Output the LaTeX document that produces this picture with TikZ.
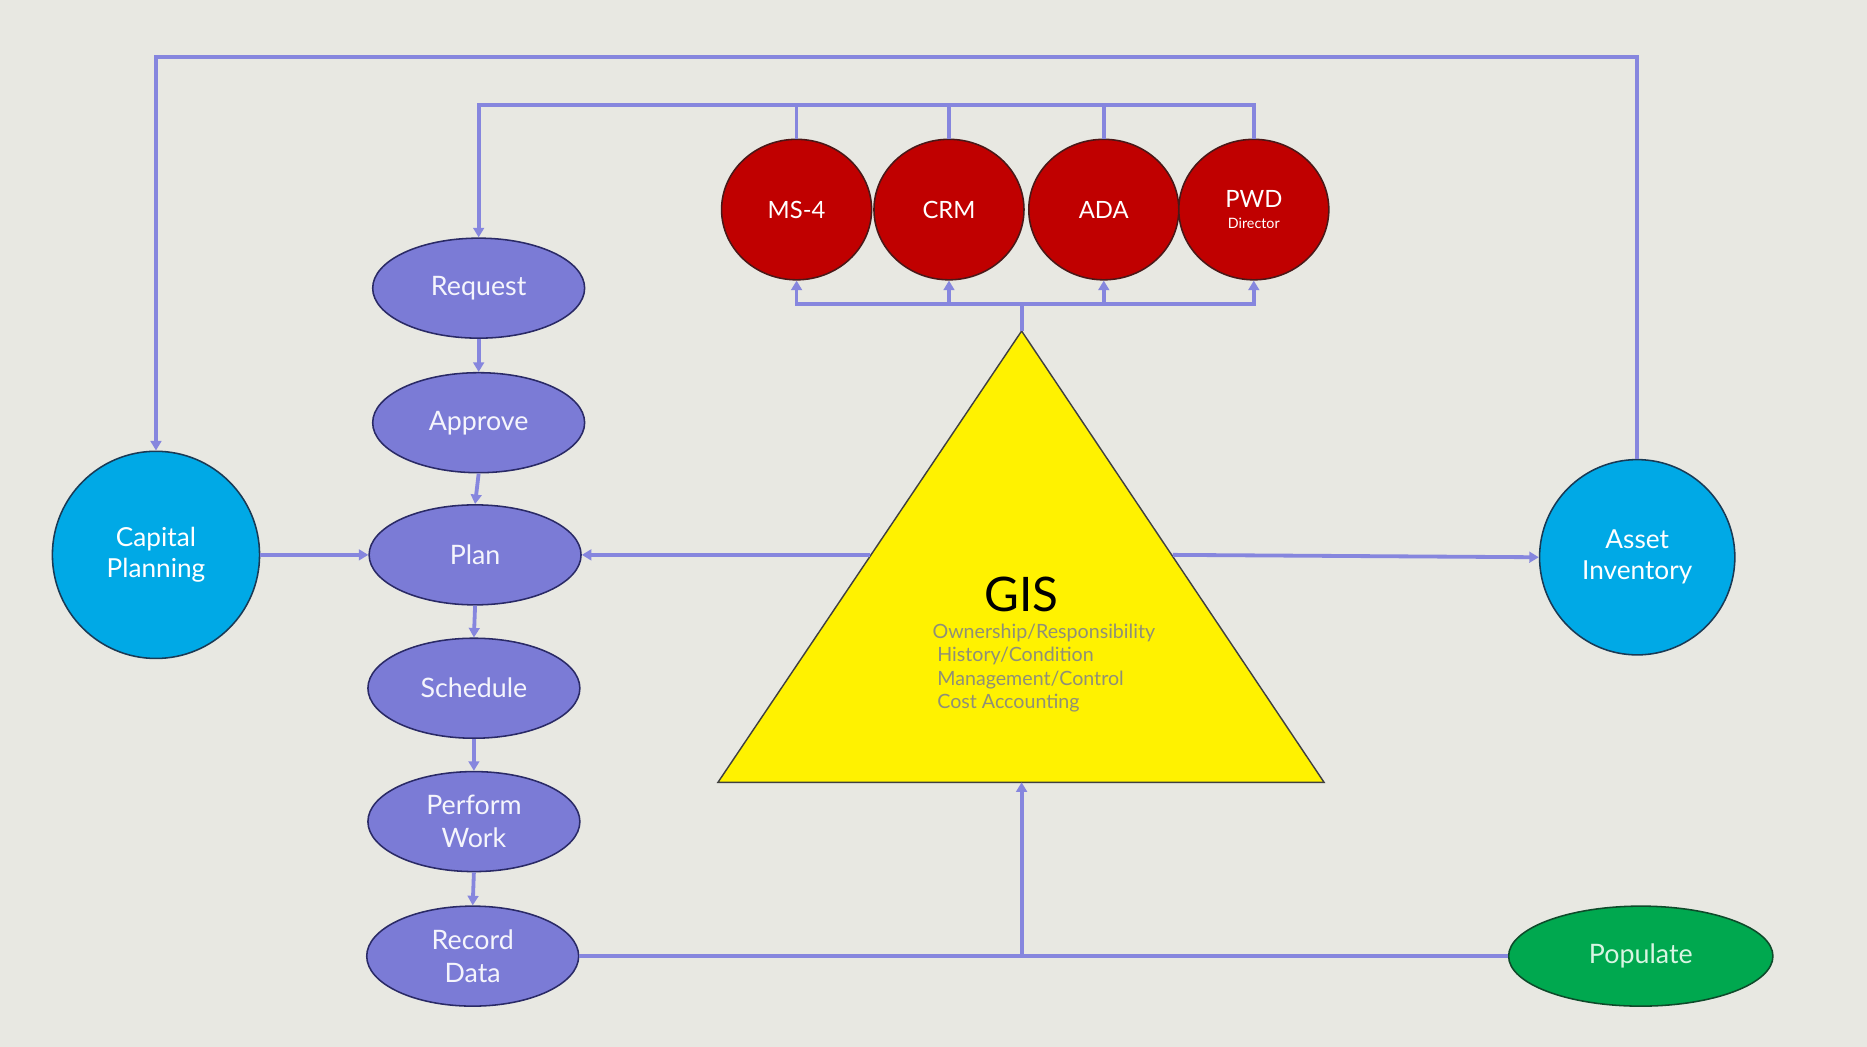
\documentclass[tikz,border=0pt]{standalone}
\usepackage{fontspec}
\setmainfont{Lato}
\usetikzlibrary{shapes.geometric,arrows.meta,calc}
\definecolor{bg}{HTML}{E8E8E2}
\definecolor{lnk}{HTML}{8686DE}
\definecolor{pfill}{HTML}{7B7BD6}
\definecolor{pdraw}{HTML}{2A2A66}
\definecolor{rfill}{HTML}{C00000}
\definecolor{rdraw}{HTML}{4A1818}
\definecolor{bfill}{HTML}{00A9E6}
\definecolor{bdraw}{HTML}{1A3A55}
\definecolor{gfill}{HTML}{00A84F}
\definecolor{gdraw}{HTML}{0E4A2A}
\definecolor{gistext}{HTML}{8F8F78}
\definecolor{poptext}{HTML}{D8F5E2}
\begin{document}
\begin{tikzpicture}[x=1pt,y=-1pt,
  conn/.style={draw=lnk,line width=3.2pt},
  arr/.style={conn,-{Triangle[length=8pt,width=9pt]}},
  proc/.style={ellipse,draw=pdraw,line width=1.3pt,fill=pfill,minimum width=178pt,minimum height=84pt,inner sep=0pt,text=white!92!pfill,font=\fontsize{22.5}{28}\selectfont,align=center},
  redc/.style={ellipse,draw=rdraw,line width=1.3pt,fill=rfill,minimum width=126pt,minimum height=118pt,inner sep=0pt,text=white,font=\fontsize{20}{24}\selectfont,align=center},
  bluec/.style={circle,draw=bdraw,line width=1.3pt,fill=bfill,inner sep=0pt,text=white,font=\fontsize{22}{26}\selectfont,align=center}
]
\fill[bg] (0,0) rectangle (1568,879);
\useasboundingbox (0,0) rectangle (1568,879);

% process chain
\node[proc] (request) at (402,242) {Request};
\node[proc] (approve) at (402,355) {Approve};
\node[proc] (plan) at (399,466) {Plan};
\node[proc] (schedule) at (398,578) {Schedule};
\node[proc] (perform) at (398,690) {Perform\\Work};
\node[proc] (record) at (397,803) {Record\\Data};

% side circles
\node[bluec,minimum size=174pt] (cap) at (131,466) {Capital\\Planning};
\node[bluec,minimum size=164pt] (asset) at (1375,468) {Asset\\Inventory};

% red circles
\node[redc] (ms4) at (669,176) {MS-4};
\node[redc] (crm) at (797,176) {CRM};
\node[redc] (ada) at (927,176) {ADA};
\node[redc] (pwd) at (1053,176) {PWD\\[-6pt]{\fontsize{12}{14}\selectfont Director}};

% populate
\node[ellipse,draw=gdraw,line width=1.3pt,fill=gfill,minimum width=222pt,minimum height=84pt,inner sep=0pt,text=poptext,font=\fontsize{22.5}{26}\selectfont] (populate) at (1378,803) {Populate};

% GIS triangle
\coordinate (apex) at (858,278);
\coordinate (bl) at (603,657);
\coordinate (br) at (1112,657);
\draw[fill=yellow,draw=black!75,line width=1.2pt] (apex) -- (bl) -- (br) -- cycle;
\coordinate (tl) at (731,466);
\coordinate (tr) at (985,466);
\coordinate (tbase) at (858,657);
\node[font=\fontsize{40}{46}\selectfont,text=black] (gis) at (858,499) {GIS};
\node[anchor=north west,align=left,text=gistext,font=\fontsize{16.5}{19.5}\selectfont,inner sep=0pt] (gissub) at (783,524)
  {Ownership/Responsibility\\\hspace*{4pt}History/Condition\\\hspace*{4pt}Management/Control\\\hspace*{4pt}Cost Accounting};

% chain arrows
\draw[arr] (request.south) -- (approve.north);
\draw[arr] (approve.south) -- (plan.north);
\draw[arr] (plan.south) -- (schedule.north);
\draw[arr] (schedule.south) -- (perform.north);
\draw[arr] (perform.south) -- (record.north);

% side arrows
\draw[arr] (cap.east) -- (plan.west);
\draw[arr] (tl) -- (plan.east);
\draw[arr] (tr) -- (asset.west);

% outer loop
\coordinate (j1) at (131,48);
\draw[arr] (asset.north) |- (j1) -- (cap.north);

% second loop
\coordinate (j2) at (402,88);
\draw[arr] (pwd.north) |- (j2) -- (request.north);
\draw[conn] (ms4.north) -- (ms4.north |- j2);
\draw[conn] (crm.north) -- (crm.north |- j2);
\draw[conn] (ada.north) -- (ada.north |- j2);

% GIS to red circles
\coordinate (j3) at (858,255);
\draw[conn] (apex) -- (j3);
\draw[arr] (j3) -| (ms4.south);
\draw[arr] (j3) -| (pwd.south);
\draw[arr] (crm.south |- j3) -- (crm.south);
\draw[arr] (ada.south |- j3) -- (ada.south);

% bottom
\coordinate (j4) at (858,803);
\draw[conn] (record.east) -- (populate.west);
\draw[arr] (j4) -- (tbase);
\end{tikzpicture}
\end{document}
